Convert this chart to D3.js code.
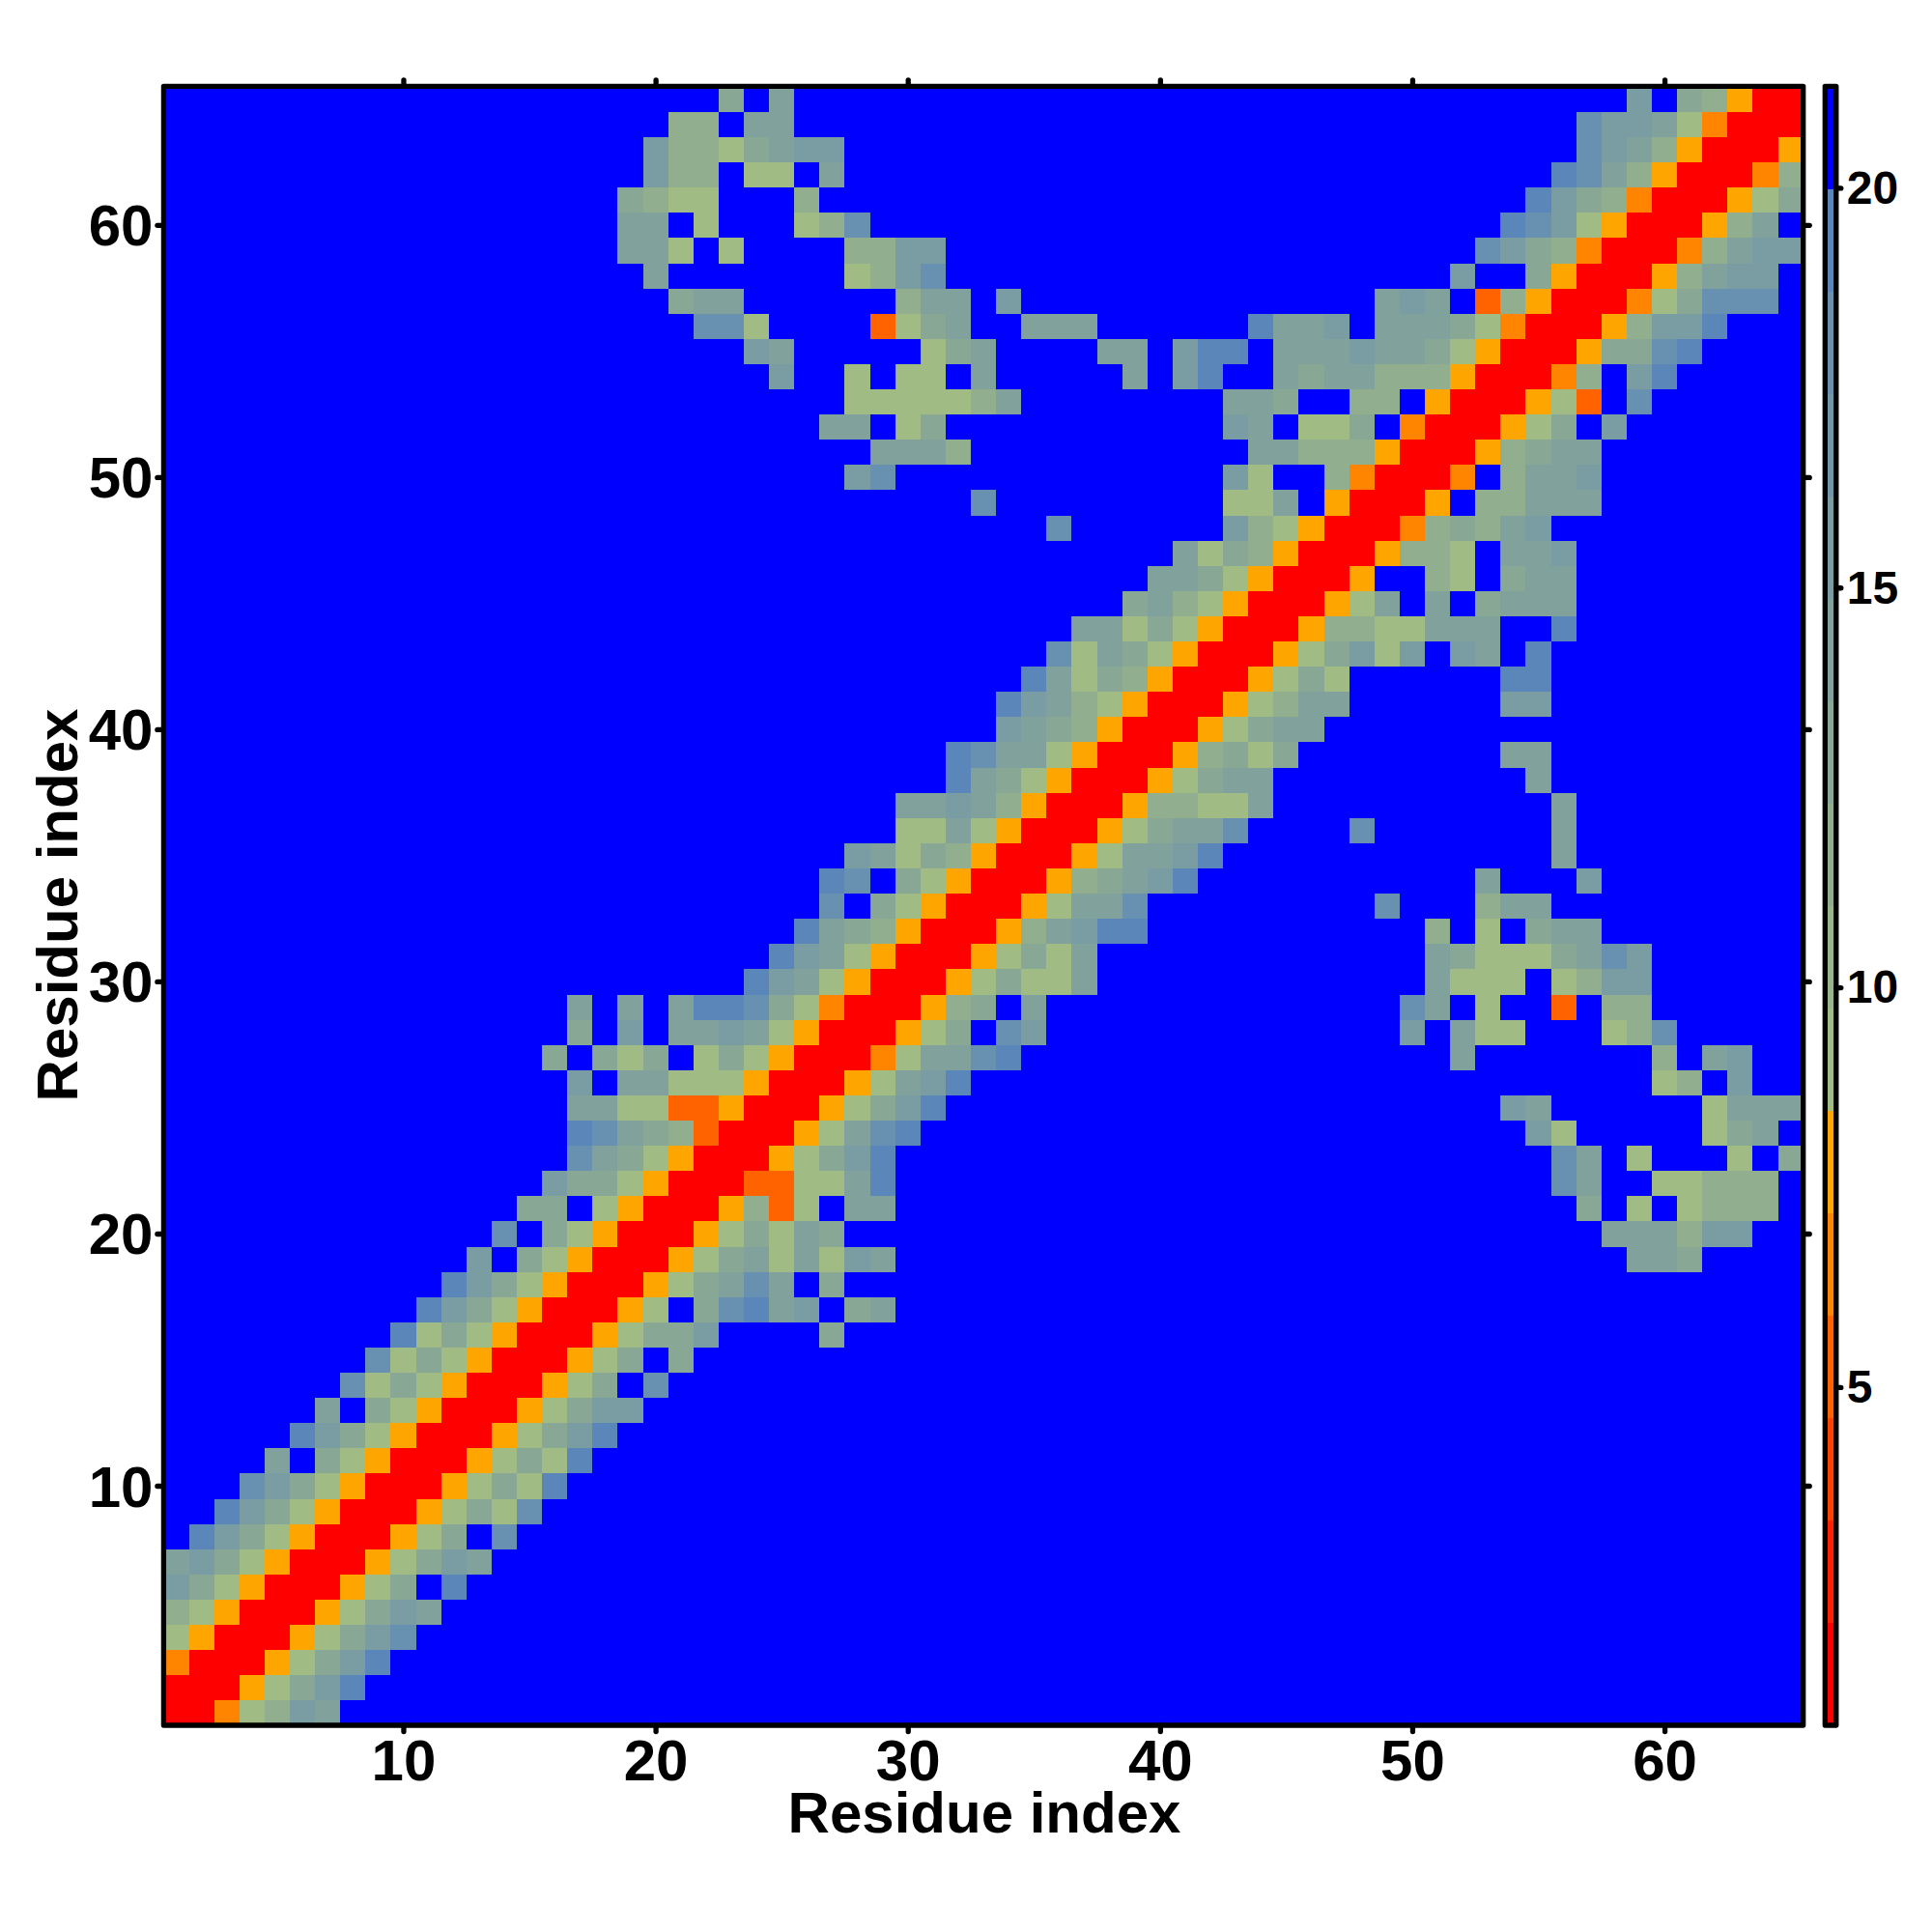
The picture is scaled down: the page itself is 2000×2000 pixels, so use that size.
<!DOCTYPE html>
<html><head><meta charset="utf-8">
<script src="https://cdn.jsdelivr.net/npm/d3@7/dist/d3.min.js"></script>
<style>html,body{margin:0;padding:0;background:#fff}svg{display:block}
text{font-family:"Liberation Sans",Arial,sans-serif;font-weight:bold;fill:#000}</style>
</head><body><svg id="c" width="2000" height="2000"></svg>
<script>
// Lower-left triangle of the symmetric map, residue 1 upward. Each string covers
// columns 1..row. Letters are distance classes, "." one far cell, a number a run of far cells.
const triangleRows = [
"R","RR","NRR","gORR","fgORR","cegORR","dcegORR",".acegORR","2acegORR","3bcegORR",
"4d.egORR","5acegORR","6d.egORR","7bgegORR","8bgegORR","9agegORR","10acegORR","11acegORR","12c.egORR","13b.egORR",
"14ee.gORR","15ceegORR","16bdegORR","16abdefMRR","16ddggMMORR","16c.ddgggORR","15e.ege.gegORR","16e.c.ddcdgORR","16d.d.daabegNRR","23acdgORR",
"24acdgORR","25adefORR","26b.egORR","26ab.egORR","27cdgefORR","29ggdgORR","29ddcdfORR","31adegORR","31abddgORR","33cdefORR",
"33acdfgORR","34adgefORR","35bgdegORR","36ddgegORR","38edfgORR","39ddegORR","40dgefORR","35b6cfgORR","32b9ggd.ORR","27cb13cg2fNRR",
"28dddf11ddfffORR","26dd.ge11cd.gge.NRR","27gggggfd8dde2ff.ORR","24c2g.gg.d5d.ca2deddfffORR","23cd5ged4dd.caa.dddcddegORR",
"21bbg4Mged2ddd6addc.dddegNRR","20edd6fdd.c14dcd.MfORR","19d7gfcb20c2eORR","18ddg.g4ffcc21bcefNRR","18dd.g3gfb25abcgORR",
"18efgg3f28acefNRR","19cff.gg.d28abdfORR","19cffgedcc29bcdfORR","20ff.dd31bccdgNRR","22e.d33c.efORR"
];
// Representative distance for each class letter
const classValues = {R:1.4,M:5.25,N:6.5,O:7.8,g:9.1,f:11.6,e:12.9,d:14.2,c:15.5,b:18.0,a:19.3,".":20.6};
const levelColors = ["#ff0000","#ff2100","#ff4200","#ff6300","#ff8400","#ffa500",
  "#a1bb84","#99b589","#91af8e","#88a895","#81a29c","#7a9ca3","#7096aa","#6890b1","#5a86ba","#0000ff"];
const valueDomain = [0.77,21.27];
const residueTicks = [10,20,30,40,50,60];
const colorbarTicks = [5,10,15,20];
const axisTitle = "Residue index";
const residueCount = 65;

function expand(s){ const out=[]; for(const m of s.matchAll(/(\d+)|(.)/g)){
  if(m[1]) for(let i=0;i<+m[1];i++) out.push("."); else out.push(m[2]); } return out; }
const tri = triangleRows.map(expand);
tri.forEach((r,i)=>{ if(r.length!==i+1) console.error("row",i+1,"length",r.length); });
const cells=[];
tri.forEach((r,j)=>r.forEach((c,i)=>{
  cells.push({x:i+1,y:j+1,v:classValues[c]});
  if(i!==j) cells.push({x:j+1,y:i+1,v:classValues[c]});
}));

const svg=d3.select("#c");
const x=d3.scaleLinear().domain([0.5,residueCount+0.5]).range([169.4,1866.7]);
const y=d3.scaleLinear().domain([0.5,residueCount+0.5]).range([1786,89.3]);
const color=d3.scaleQuantize().domain(valueDomain).range(levelColors);
const cw=x(2)-x(1), ch=y(1)-y(2);

svg.append("g").attr("shape-rendering","crispEdges").selectAll("rect").data(cells).join("rect")
  .attr("x",d=>x(d.x-0.5)).attr("y",d=>y(d.y+0.5)).attr("width",cw+0.5).attr("height",ch+0.5)
  .attr("fill",d=>color(d.v));

function styleTicks(g){
  g.select(".domain").remove();
  g.selectAll("line").attr("stroke","#000").attr("stroke-width",5.3).attr("stroke-linecap","round");
}
const tl=6.5;
svg.append("g").attr("transform","translate(0,1786)")
  .call(d3.axisBottom(x).tickValues(residueTicks).tickSize(tl).tickPadding(22))
  .call(styleTicks).call(g=>g.selectAll("text").attr("font-size",60).attr("dy",0).attr("y",57).attr("text-anchor","middle"));
svg.append("g").attr("transform","translate(0,89.3)")
  .call(d3.axisTop(x).tickValues(residueTicks).tickSize(tl).tickFormat("")).call(styleTicks);
svg.append("g").attr("transform","translate(169.4,0)")
  .call(d3.axisLeft(y).tickValues(residueTicks).tickSize(tl).tickPadding(12))
  .call(styleTicks).call(g=>g.selectAll("text").attr("font-size",60).attr("x",-11).attr("dy","0.35em"));
svg.append("g").attr("transform","translate(1866.7,0)")
  .call(d3.axisRight(y).tickValues(residueTicks).tickSize(tl).tickFormat("")).call(styleTicks);

svg.append("rect").attr("x",x(0.5)).attr("y",y(residueCount+0.5)).attr("width",x(residueCount+0.5)-x(0.5))
  .attr("height",y(0.5)-y(residueCount+0.5)).attr("fill","none").attr("stroke","#000").attr("stroke-width",5.3).attr("stroke-linejoin","round");

svg.append("text").attr("x",1019).attr("y",1897).attr("text-anchor","middle").attr("font-size",60).text(axisTitle);
svg.append("text").attr("transform","translate(80,937) rotate(-90)").attr("text-anchor","middle").attr("font-size",60).text(axisTitle);

// Colour bar
const cy=d3.scaleLinear().domain(valueDomain).range([1786,89.3]);
const step=(valueDomain[1]-valueDomain[0])/levelColors.length;
svg.append("g").attr("shape-rendering","crispEdges").selectAll("rect").data(levelColors).join("rect")
  .attr("x",1889.3).attr("width",11.5)
  .attr("y",(d,i)=>cy(valueDomain[0]+(i+1)*step)).attr("height",(d,i)=>cy(valueDomain[0]+i*step)-cy(valueDomain[0]+(i+1)*step)+0.5)
  .attr("fill",d=>d);
svg.append("g").attr("transform","translate(1900.8,0)")
  .call(d3.axisRight(cy).tickValues(colorbarTicks).tickSize(5).tickPadding(4))
  .call(styleTicks).call(g=>g.selectAll("text").attr("font-size",48).attr("x",11).attr("dy","0.33em"));
svg.append("rect").attr("x",1889.3).attr("y",89.3).attr("width",11.5).attr("height",1696.7)
  .attr("fill","none").attr("stroke","#000").attr("stroke-width",5.3).attr("stroke-linejoin","round");
</script></body></html>
